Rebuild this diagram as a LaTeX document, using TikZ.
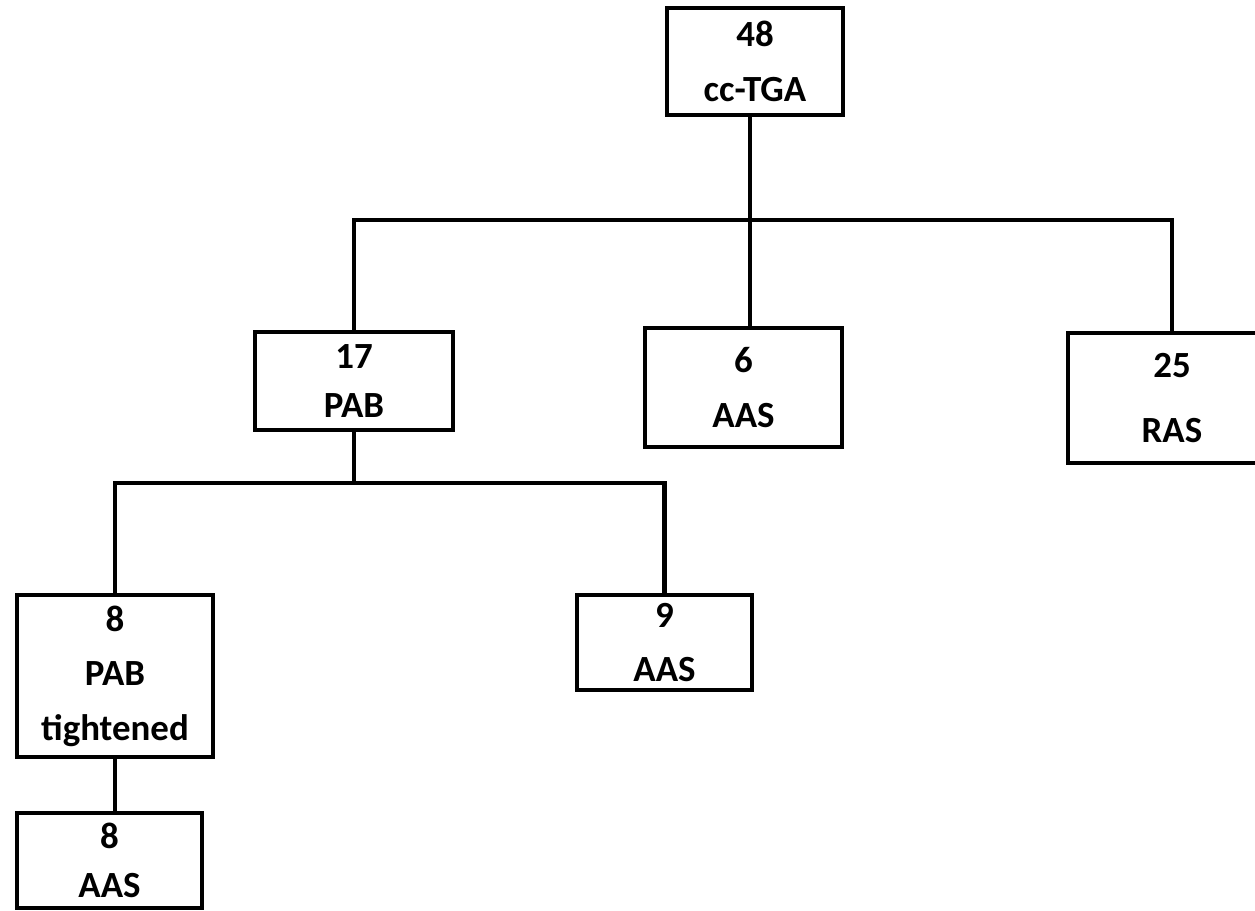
\documentclass[tikz,border=0pt]{standalone}
\usepackage{fontspec}
\setmainfont{Carlito}

\begin{document}
\begin{tikzpicture}[x=0.02cm,y=-0.02cm,
  box/.style={draw=black,line width=2.6pt,rectangle,inner sep=0pt,outer sep=0pt,align=center,font=\fontsize{21}{31}\selectfont\bfseries},
  link/.style={draw=black,line width=2.4pt}]
\useasboundingbox (0,0) rectangle (1255,910);

\node[box,minimum width=3.52cm,minimum height=2.14cm] (cc) at (755,61.5) {48\\cc-TGA};
\node[box,minimum width=3.96cm,minimum height=1.96cm] (pab) at (354,381) {17\\[-0.1cm]PAB};
\node[box,minimum width=3.94cm,minimum height=2.38cm] (aasA) at (743.5,387.5) {6\\AAS};
\node[box,minimum width=4.16cm,minimum height=2.6cm] (ras) at (1172,398) {25\\[0.22cm]RAS};
\node[box,minimum width=3.92cm,minimum height=3.24cm] (pabt) at (115,676) {8\\PAB\\tightened};
\node[box,minimum width=3.5cm,minimum height=1.9cm] (aasB) at (664.5,642.5) {9\\AAS};
\node[box,minimum width=3.7cm,minimum height=1.9cm] (aasC) at (109.5,860.5) {8\\[-0.1cm]AAS};

\coordinate (bus1) at (750,220);
\coordinate (bus2) at (pab.south |- 0,483);

\draw[link] (cc.south -| bus1) -- (bus1);
\draw[link] (pab.north) |- (bus1) -| (ras.north);
\draw[link] (bus1) -- (bus1 |- aasA.north);
\draw[link] (pab.south) -- (bus2);
\draw[link] (pabt.north) |- (bus2) -| (aasB.north);
\draw[link] (pabt.south) -- (pabt.south |- aasC.north);

\end{tikzpicture}
\end{document}
